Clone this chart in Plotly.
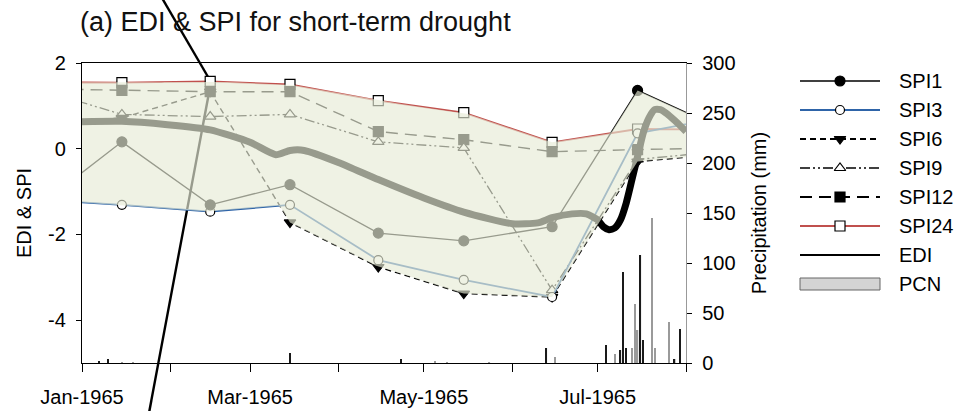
import numpy as np
import pandas as pd
import plotly.graph_objects as go

# ---------------- data ----------------
spi_dates = ["1964-12-15", "1965-01-15", "1965-02-15", "1965-03-15", "1965-04-15",
             "1965-05-15", "1965-06-15", "1965-07-15", "1965-08-15"]
spi1 = [-1.43, 0.16, -1.31, -0.84, -1.97, -2.15, -1.82, 1.36, 0.42]
spi3 = [-1.18, -1.31, -1.47, -1.31, -2.60, -3.06, -3.46, 0.36, 0.75]
spi6 = [0.60, 0.72, 1.33, -1.72, -2.76, -3.38, -3.46, -0.30, -0.12]
spi9 = [1.42, 0.80, 0.75, 0.80, 0.16, 0.02, -3.30, -0.25, -0.05]
spi12 = [1.40, 1.36, 1.33, 1.33, 0.40, 0.21, -0.07, -0.02, 0.02]
spi24 = [1.55, 1.54, 1.57, 1.50, 1.12, 0.84, 0.15, 0.46, 0.44]

edi_dates = ["1965-01-01", "1965-01-15", "1965-01-31", "1965-02-15", "1965-03-01",
             "1965-03-10", "1965-03-15", "1965-03-20", "1965-04-01", "1965-04-15",
             "1965-05-01", "1965-05-15", "1965-06-01", "1965-06-10", "1965-06-15",
             "1965-06-22", "1965-06-27", "1965-07-01", "1965-07-03", "1965-07-05",
             "1965-07-07", "1965-07-09", "1965-07-11", "1965-07-13", "1965-07-15",
             "1965-07-17", "1965-07-19", "1965-07-21", "1965-07-23", "1965-07-25",
             "1965-07-27", "1965-07-29", "1965-08-01"]
edi = [0.63, 0.64, 0.56, 0.44, 0.15, -0.14, -0.04, -0.04, -0.32, -0.72,
       -1.15, -1.48, -1.75, -1.73, -1.61, -1.52, -1.52, -1.66, -1.82, -1.89,
       -1.85, -1.66, -1.27, -0.73, -0.18, 0.37, 0.72, 0.91, 0.91, 0.83,
       0.72, 0.60, 0.40]

pcn_a_dates = ["1965-01-07", "1965-01-10", "1965-03-15", "1965-04-23", "1965-06-13",
               "1965-07-04", "1965-07-09", "1965-07-10", "1965-07-11", "1965-07-16",
               "1965-07-17", "1965-07-28", "1965-07-30"]
pcn_a = [2, 4, 10, 4, 15, 18, 13, 91, 15, 108, 23, 4, 34]
pcn_b_dates = ["1965-01-15", "1965-01-19", "1965-05-05", "1965-05-09", "1965-05-24",
               "1965-06-16", "1965-07-07", "1965-07-13", "1965-07-14", "1965-07-15",
               "1965-07-20", "1965-07-21", "1965-07-26"]
pcn_b = [1, 1, 2, 1, 1, 6, 9, 15, 59, 33, 145, 15, 41]

month_ticks = ["1965-01-01", "1965-02-01", "1965-03-01", "1965-04-01", "1965-05-01",
               "1965-06-01", "1965-07-01", "1965-08-01"]
month_labels = ["Jan-1965", "", "Mar-1965", "", "May-1965", "", "Jul-1965", ""]

legend_names = ["SPI1", "SPI3", "SPI6", "SPI9", "SPI12", "SPI24", "EDI", "PCN"]

# ---------------- geometry helpers ----------------
W, H = 957, 411
ML, MR, MT, MB = 82, 10, 63, 48
PW = W - ML - MR
PH = H - MT - MB
xdom = (686 - ML) / PW

def px(x):
    return (x - ML) / PW

def py(y):
    return (H - MB - y) / PH

FONT = "Liberation Sans, Arial, sans-serif"

fig = go.Figure()

# precipitation bars (right axis)
day_ms = 86400000
fig.add_trace(go.Bar(x=pcn_b_dates, y=pcn_b, yaxis="y2", marker_color="#9a9a9a",
                     marker_line_width=0, width=0.45 * day_ms, name="PCN"))
fig.add_trace(go.Bar(x=pcn_a_dates, y=pcn_a, yaxis="y2", marker_color="#1a1a1a",
                     marker_line_width=0, width=0.45 * day_ms, name="PCN2"))

styles = {
    "SPI24": dict(y=spi24, color="#c0504d", dash="solid", width=1.8,
                  symbol="square", mfill="white", size=10),
    "SPI12": dict(y=spi12, color="black", dash="12px,7px", width=1.4,
                  symbol="square", mfill="black", size=10),
    "SPI9": dict(y=spi9, color="black", dash="10px,3px,2px,3px,2px,3px", width=1.3,
                 symbol="triangle-up", mfill="white", size=10),
    "SPI6": dict(y=spi6, color="black", dash="6px,4px", width=1.4,
                 symbol="triangle-down", mfill="black", size=10),
    "SPI3": dict(y=spi3, color="#2e64a8", dash="solid", width=1.8,
                 symbol="circle", mfill="white", size=9),
    "SPI1": dict(y=spi1, color="black", dash="solid", width=1.3,
                 symbol="circle", mfill="black", size=10),
}

for name, s in styles.items():
    fig.add_trace(go.Scatter(
        x=spi_dates, y=s["y"], mode="lines+markers", name=name,
        line=dict(color=s["color"], dash=s["dash"], width=s["width"]),
        marker=dict(symbol=s["symbol"], size=s["size"], color=s["mfill"],
                    line=dict(color="black", width=1.2)),
    ))

fig.add_trace(go.Scatter(x=edi_dates, y=edi, mode="lines", name="EDI",
                         line=dict(color="black", width=7, shape="spline", smoothing=0.6)))

# translucent envelope between the highest and lowest SPI
t = pd.to_datetime(spi_dates)
tn = (t - t[0]).days.values.astype(float)
grid = np.arange(tn[0], tn[-1] + 1)
allspi = np.array([np.interp(grid, tn, s) for s in [spi1, spi3, spi6, spi9, spi12, spi24]])
upper = allspi.max(axis=0)
lower = allspi.min(axis=0)
gdates = t[0] + pd.to_timedelta(grid, unit="D")
poly_x = list(gdates) + list(gdates[::-1])
poly_y = list(upper) + list(lower[::-1])
fig.add_trace(go.Scatter(x=poly_x, y=poly_y, fill="toself", mode="lines",
                         line=dict(width=0), fillcolor="rgba(230,236,214,0.66)",
                         hoverinfo="skip", name="range"))

# ---------------- manual legend ----------------
row0, drow = 81, 29
lx0, lx1, lxm = 800, 880, 840
legend_styles = [styles["SPI1"], styles["SPI3"], styles["SPI6"], styles["SPI9"],
                 styles["SPI12"], styles["SPI24"]]
annotations = []
shapes = []
for i, name in enumerate(legend_names):
    ry = row0 + i * drow
    if i < 6:
        s = legend_styles[i]
        fig.add_trace(go.Scatter(x=[lx0, lx1], y=[ry, ry], mode="lines", xaxis="x3", yaxis="y3",
                                 line=dict(color=s["color"], dash=s["dash"], width=s["width"] + 0.4),
                                 hoverinfo="skip"))
        fig.add_trace(go.Scatter(x=[lxm], y=[ry], mode="markers", xaxis="x3", yaxis="y3",
                                 marker=dict(symbol=s["symbol"], size=s["size"], color=s["mfill"],
                                             line=dict(color="black", width=1.2)),
                                 cliponaxis=False, hoverinfo="skip"))
    elif name == "EDI":
        fig.add_trace(go.Scatter(x=[lx0, lx1], y=[ry, ry], mode="lines", xaxis="x3", yaxis="y3",
                                 line=dict(color="black", width=2.2), hoverinfo="skip"))
    else:
        shapes.append(dict(type="rect", xref="x3", yref="y3", x0=lx0, x1=lx1,
                           y0=ry - 6, y1=ry + 6, fillcolor="#d4d4d4",
                           line=dict(color="#666", width=1)))
    annotations.append(dict(x=px(897), y=py(ry), xref="paper", yref="paper", text=name,
                            showarrow=False, xanchor="left", yanchor="middle",
                            font=dict(family=FONT, size=20, color="black")))

# title
annotations.append(dict(x=px(78), y=py(22), xref="paper", yref="paper",
                        text="(a) EDI & SPI for short-term drought", showarrow=False,
                        xanchor="left", yanchor="middle",
                        font=dict(family=FONT, size=27, color="#111")))

# stray black guide line of the original figure
shapes.append(dict(type="line", xref="paper", yref="paper", layer="below",
                   x0=px(162), y0=py(-2), x1=px(211), y1=py(82),
                   line=dict(color="black", width=2.4)))
shapes.append(dict(type="line", xref="paper", yref="paper", layer="below",
                   x0=px(211), y0=py(82), x1=px(149), y1=py(413),
                   line=dict(color="black", width=2.4)))

fig.update_layout(
    width=W, height=H, margin=dict(l=ML, r=MR, t=MT, b=MB, autoexpand=False),
    paper_bgcolor="white", plot_bgcolor="rgba(0,0,0,0)",
    showlegend=False, barmode="overlay",
    font=dict(family=FONT, size=20, color="black"),
    xaxis=dict(domain=[0, xdom], type="date", range=["1965-01-01", "1965-08-01"],
               tickmode="array", tickvals=month_ticks, ticktext=month_labels,
               ticks="outside", ticklen=8, tickcolor="black", showline=True,
               linecolor="black", linewidth=1.4, mirror=True, showgrid=False,
               zeroline=False, ticklabelstandoff=8, anchor="y", automargin=False),
    yaxis=dict(range=[-5, 2], tickmode="array", tickvals=[-4, -2, 0, 2],
               ticktext=["-4", "-2", "0", "2"], ticks="outside", ticklen=5,
               tickcolor="black", showline=True, linecolor="black", linewidth=1.4,
               showgrid=False, zeroline=False, ticklabelstandoff=6, automargin=False,
               title=dict(text="EDI & SPI", standoff=11, font=dict(size=20))),
    yaxis2=dict(overlaying="y", side="right", anchor="x", range=[0, 300], dtick=50,
                tick0=0, ticks="outside", ticklen=5, tickcolor="black", showline=True,
                linecolor="#999", linewidth=1.4, showgrid=False, zeroline=False,
                ticklabelstandoff=6, automargin=False,
                title=dict(text="Precipitation (mm)", standoff=17, font=dict(size=20))),
    xaxis3=dict(domain=[xdom, 1], range=[686, W - MR], visible=False, anchor="y3",
                fixedrange=True),
    yaxis3=dict(domain=[0, 1], range=[H - MB, MT], visible=False, anchor="x3",
                fixedrange=True),
    annotations=annotations, shapes=shapes,
)

fig.write_html("out.html", config={"displayModeBar": False},
               post_script="document.body.style.margin='0';")
